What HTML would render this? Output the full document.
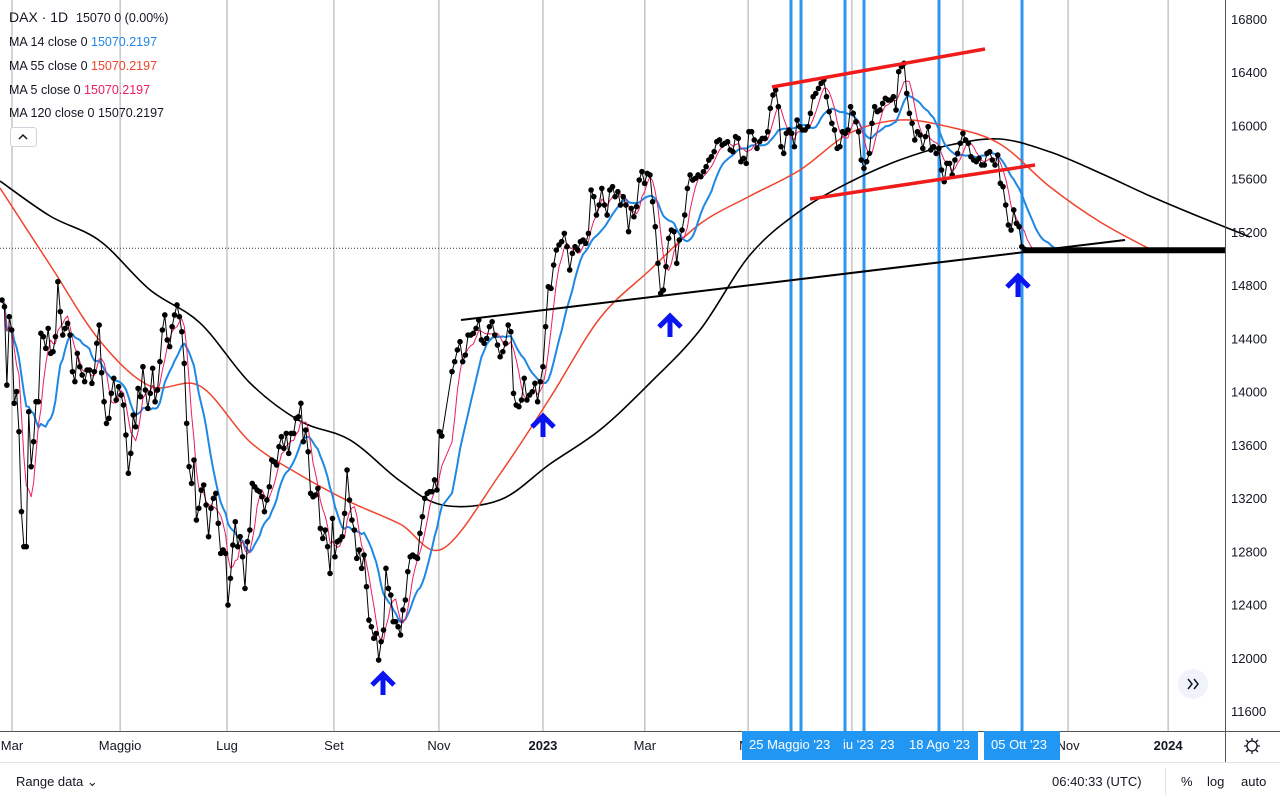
<!DOCTYPE html>
<html><head><meta charset="utf-8"><style>
html,body{margin:0;padding:0;background:#fff;width:1280px;height:800px;overflow:hidden;font-family:"Liberation Sans",sans-serif;}
svg{display:block}
text{font-family:"Liberation Sans",sans-serif;}
</style></head><body>
<svg id="chart" width="1280" height="800" viewBox="0 0 1280 800" xmlns="http://www.w3.org/2000/svg">
<rect x="0" y="0" width="1280" height="800" fill="#fff"/>
<g id="grid"></g><g id="overlay-back"></g><g id="series"></g><g id="overlay"></g><g id="axes"></g>
</svg>
<script>
const closes=[14688,14638,14049,14563,14463,13912,14000,13699,13098,12835,12835,13849,13436,13624,13924,13924,14438,14413,14325,14475,14287,14300,14413,14826,14601,14425,14475,14513,14425,14150,14075,14287,14187,14125,14075,14162,14162,14062,14150,14363,14500,14142,13924,13761,13799,13987,14100,13937,14037,13974,13899,13674,13386,13536,13824,13736,14024,13962,14187,14012,13874,13987,14175,13924,14012,14225,14463,14576,14388,14338,14488,14576,14651,14563,14450,14212,13761,13436,13310,13486,13035,13123,13260,13298,13148,12910,13123,13198,13235,13010,12784,12810,12784,12396,12597,12847,13022,12835,12910,12759,12521,12872,12960,13310,13285,13260,13248,13210,13098,13185,13285,13486,13473,13448,13586,13661,13574,13686,13536,13686,13686,13799,13811,13912,13624,13711,13548,13235,13210,13223,13273,12972,12897,12960,12835,12634,13047,12759,12872,12885,12910,13085,13411,13185,13035,12960,12747,12810,12672,12772,12534,12283,12233,12146,12183,11983,12121,12208,12672,12521,12471,12271,12271,12233,12171,12359,12434,12647,12759,12772,12759,12747,12935,13060,13198,13235,13248,13248,13336,13261,
13699,13666,14150,14225,14313,14375,14225,14275,14425,14425,14438,14475,14538,14388,14363,14400,14488,14525,14425,14350,14262,14300,14363,14500,14450,13987,13899,13887,13937,14100,13937,13974,13999,14062,13924,14074,14187,14488,14788,14776,14951,15064,15102,15127,15189,15089,14914,15039,15089,15064,15127,15139,15114,15189,15515,15465,15327,15402,15527,15402,15327,15515,15540,15465,15502,15402,15465,15402,15202,15377,15314,15390,15590,15653,15565,15640,15628,15427,15239,14964,14738,14763,14939,15152,15214,15202,14964,15139,15214,15327,15527,15628,15590,15603,15628,15615,15653,15690,15740,15765,15803,15878,15891,15853,15866,15878,15816,15803,15916,15903,15728,15753,15715,15953,15953,15891,15828,15878,15903,15903,15953,16129,16229,16266,16141,15841,15790,15941,15966,15941,15841,16041,15991,15966,15966,15991,16091,16216,16241,16279,16317,16342,16216,16104,16016,15966,15828,15841,15953,15941,15966,16141,16091,16028,15953,15740,15678,15728,15790,16016,16141,16104,16116,16166,16204,16191,16191,16216,16116,16404,16442,16467,16241,16091,16016,15891,15953,15928,15828,15916,15991,15816,15841,15790,15828,15665,15578,15715,15715,15628,15740,15790,15866,15941,15891,15866,15765,15740,15728,15753,15703,15703,15790,15803,15740,15703,15778,15565,15540,15402,15252,15214,15365,15264,15239,15089,15070];
const ma55Samples=[15530,14952,14380,14042,14042,13622,13374,13171,13005,12818,13381,13952,14553,14914,15260,15470,15665,15943,16041,15988,15861,15538,15275,15070];
const ma120Samples=[15583,15320,15132,14764,14516,14065,13779,13637,13329,13148,13186,13456,13712,14065,14463,15027,15357,15575,15741,15853,15898,15801,15643,15470,15312,15162];
const priceTicks=[16800,16400,16000,15600,15200,14800,14400,14000,13600,13200,12800,12400,12000,11600];
const monthLabels=["Mar","Maggio","Lug","Set","Nov","2023","Mar","Ma","Lug","Set","Nov","2024"];
const monthIdx=[4.1,48.6,92.6,136.6,179.8,216,254.1,292.7,331.5,373,412.3,449.7];
const monthShow=[1,1,1,1,1,1,1,1,0,0,1,1];
const lastClose=15070;
const futureEnd=474;

const NS="http://www.w3.org/2000/svg";
const PLOT_R=1225, AXIS_Y=731, BREAK=182, S1=2.43, S2=2.675, X0=2, X1=452;
function y(v){return 19+(16800-v)/400*53.23;}
function x(i){return i<BREAK? X0+i*S1 : X1+(i-BREAK)*S2;}
function idxAtPx(px){return px<X0+BREAK*S1? (px-X0)/S1 : BREAK+(px-X1)/S2;}
function mk(tag,attrs,parent){const e=document.createElementNS(NS,tag);for(const k in attrs)e.setAttribute(k,attrs[k]);parent.appendChild(e);return e;}
const grid=document.getElementById('grid'),ser=document.getElementById('series'),ov=document.getElementById('overlay'),ovb=document.getElementById('overlay-back'),ax=document.getElementById('axes');

monthIdx.forEach((m,k)=>{const l=mk('line',{x1:x(m),x2:x(m),y1:0,y2:AXIS_Y,stroke:'#a8a8a8','stroke-width':1},grid);

});

const pl=mk('line',{x1:0,x2:PLOT_R,y1:y(lastClose)-1,y2:y(lastClose)-1,stroke:'#333','stroke-width':1,'stroke-dasharray':'1,2'},grid);



[791,801,845,864,939,1022].forEach((vx,k)=>{const l=mk('line',{x1:vx,x2:vx,y1:0,y2:AXIS_Y,stroke:'#2f96ee','stroke-width':3},ovb);

});

const ext=closes.slice();for(let i=closes.length;i<=futureEnd;i++)ext.push(lastClose);
function sma(arr,n){return arr.map((_,i)=>{const s=Math.max(0,i-n+1);let t=0;for(let j=s;j<=i;j++)t+=arr[j];return t/(i-s+1);});}
function path(pts){return pts.map((p,i)=>(i?'L':'M')+p[0].toFixed(1)+','+p[1].toFixed(1)).join('');}
function smooth(pts){let d='M'+pts[0][0].toFixed(1)+','+pts[0][1].toFixed(1);
for(let i=0;i<pts.length-1;i++){const p0=pts[Math.max(0,i-1)],p1=pts[i],p2=pts[i+1],p3=pts[Math.min(pts.length-1,i+2)];
const c1=[p1[0]+(p2[0]-p0[0])/6,p1[1]+(p2[1]-p0[1])/6],c2=[p2[0]-(p3[0]-p1[0])/6,p2[1]-(p3[1]-p1[1])/6];
d+='C'+c1[0].toFixed(1)+','+c1[1].toFixed(1)+' '+c2[0].toFixed(1)+','+c2[1].toFixed(1)+' '+p2[0].toFixed(1)+','+p2[1].toFixed(1);}
return d;}

const ma120=mk('path',{d:smooth(ma120Samples.map((v,k)=>[x(idxAtPx(k*50)),y(v)])),fill:'none',stroke:'#000','stroke-width':1.6},ser);


const ma55=mk('path',{d:smooth(ma55Samples.map((v,k)=>[x(idxAtPx(k*50)),y(v)])),fill:'none',stroke:'#f0442c','stroke-width':1.5},ser);



const m14=sma(ext,14),m5=sma(ext,5);
const ma14=mk('path',{d:path(m14.slice(0,closes.length+14).map((v,i)=>[x(i),y(v)])),fill:'none',stroke:'#1e88e5','stroke-width':2,'stroke-linejoin':'round'},ser);


const ma5=mk('path',{d:path(m5.slice(0,closes.length+5).map((v,i)=>[x(i),y(v)])),fill:'none',stroke:'#e91e63','stroke-width':1,'stroke-linejoin':'round'},ser);



const cl=mk('path',{d:path(closes.map((v,i)=>[x(i),y(v)])),fill:'none',stroke:'#000','stroke-width':1},ser);


closes.forEach((v,i)=>{const c=mk('circle',{cx:x(i),cy:y(v),r:2.8,fill:'#000'},ser);

});
const proj=mk('line',{x1:x(closes.length-1),x2:PLOT_R,y1:y(lastClose)+1,y2:y(lastClose)+1,stroke:'#000','stroke-width':6},ser);



[[461,320,1125,240,'#000',2,'support-trendline'],[772,87,985,49,'#f01c1c',3.5,'upper-channel-line'],[810,199,1035,165,'#f01c1c',3.5,'lower-channel-line']].forEach(t=>{
const l=mk('line',{x1:t[0],y1:t[1],x2:t[2],y2:t[3],stroke:t[4],'stroke-width':t[5]},ov);

});
[[383,683],[543,425],[670,325],[1018,285]].forEach((a,k)=>{const g=mk('g',{transform:'translate('+a[0]+','+a[1]+')'},ov);


mk('path',{d:'M-11,2 L0,-9 L11,2 M0,-8 L0,12',fill:'none',stroke:'#0a14f0','stroke-width':5},g);});

mk('line',{x1:PLOT_R+0.5,x2:PLOT_R+0.5,y1:0,y2:762,stroke:'#555','stroke-width':1},ax);
priceTicks.forEach(v=>{const t=mk('text',{x:1231,y:y(v)+5,'font-size':13,fill:'#131722'},ax);t.textContent=v;

});
mk('line',{x1:0,x2:1280,y1:AXIS_Y+0.5,y2:AXIS_Y+0.5,stroke:'#555','stroke-width':1},ax);
mk('line',{x1:0,x2:1280,y1:762.5,y2:762.5,stroke:'#e0e3eb','stroke-width':1},ax);
monthIdx.forEach((m,k)=>{if(!monthShow[k])return;const bold=/^\d/.test(monthLabels[k]);
const t=mk('text',{x:x(m),y:750,'font-size':13,'text-anchor':'middle',fill:'#131722','font-weight':bold?'bold':'normal'},ax);t.textContent=monthLabels[k];

});
</script>
<svg style="position:absolute;left:0;top:0" width="1280" height="800">
 <g>
  <rect x="742" y="731" width="236" height="29" fill="#2196f3"/>
  <text x="749" y="749" font-size="13" fill="#fff">25 Maggio '23</text>
  <text x="843" y="749" font-size="13" fill="#fff">iu '23</text>
  <text x="880" y="749" font-size="13" fill="#fff">23</text>
  <text x="909" y="749" font-size="13" fill="#fff">18 Ago '23</text>
  <rect x="984" y="731" width="76" height="29" fill="#2196f3"/>
  <text x="991" y="749" font-size="13" fill="#fff">05 Ott '23</text>
 </g>
 <g font-size="12.5" fill="#131722">
  <text x="9" y="22" font-size="14">DAX · 1D</text><text x="76" y="22">15070  0 (0.00%)</text>
  <text x="9" y="46">MA 14 close 0 <tspan fill="#1e88e5">15070.2197</tspan></text>
  <text x="9" y="70">MA 55 close 0 <tspan fill="#f0442c">15070.2197</tspan></text>
  <text x="9" y="94">MA 5 close 0 <tspan fill="#e91e63">15070.2197</tspan></text>
  <text x="9" y="117">MA 120 close 0 15070.2197</text>
 </g>
 <g><rect x="10.5" y="127.5" width="26" height="19" rx="3" fill="#fff" stroke="#d1d4dc"/><path d="M19,139 L23,135 L27,139" fill="none" stroke="#131722" stroke-width="1.5"/></g>
 <g><circle cx="1193" cy="684" r="15" fill="#f0f3fa"/><path d="M1188,679 L1192,684 L1188,689 M1194,679 L1198,684 L1194,689" fill="none" stroke="#131722" stroke-width="1.5"/></g>
 <g><circle cx="1252" cy="746" r="5" fill="none" stroke="#131722" stroke-width="1.3"/><path d="M1252,738v3M1252,751v3M1244,746h3M1257,746h3M1246,740l2,2M1256,750l2,2M1258,740l-2,2M1248,750l-2,2" stroke="#131722" stroke-width="1.3"/></g>
 <text x="16" y="786" font-size="13" fill="#131722">Range data ⌄</text>
 <text x="1052" y="786" font-size="13" fill="#131722">06:40:33 (UTC)</text>
 <line x1="1165.5" y1="768" x2="1165.5" y2="795" stroke="#e0e3eb"/>
 <text x="1181" y="786" font-size="13" fill="#131722">%</text>
 <text x="1207" y="786" font-size="13" fill="#131722">log</text>
 <text x="1241" y="786" font-size="13" fill="#131722">auto</text>
</svg>
</body></html>
